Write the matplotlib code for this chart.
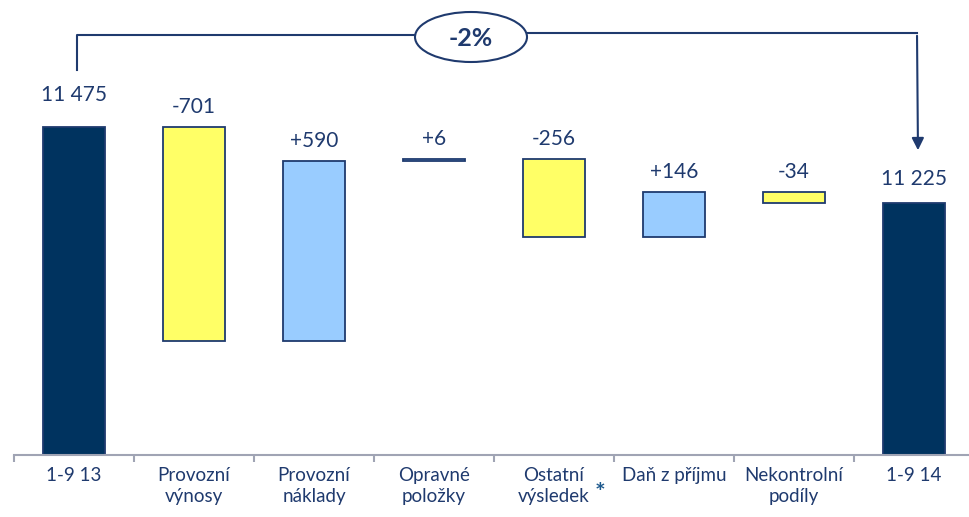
import matplotlib.pyplot as plt
import matplotlib.transforms as mtransforms
from matplotlib.patches import Ellipse

plt.rcParams['font.family'] = ['Lato', 'DejaVu Sans']

categories = ['1-9 13', 'Provozní\nvýnosy', 'Provozní\nnáklady', 'Opravné\npoložky',
              'Ostatní\nvýsledek', 'Daň z příjmu', 'Nekontrolní\npodíly', '1-9 14']
start_value = 11475
deltas = [-701, 590, 6, -256, 146, -34]
end_value = 11225
value_labels = ['11 475', '-701', '+590', '+6', '-256', '+146', '-34', '11 225']
change_label = '-2%'

navy = '#00335f'
text_col = '#1f3a6e'
yellow = '#ffff66'
lightblue = '#99ccff'

fig = plt.figure(figsize=(9.69, 5.17), dpi=100)
ax = fig.add_axes([14 / 969, 62 / 517, 960 / 969, 455 / 517])

y_min, y_max = 10400, 11890

# waterfall bars
bottoms, heights, colors = [y_min], [start_value - y_min], [navy]
level = start_value
for d in deltas:
    new = level + d
    bottoms.append(min(level, new))
    heights.append(abs(d))
    colors.append(yellow if d < 0 else lightblue)
    level = new
bottoms.append(y_min)
heights.append(end_value - y_min)
colors.append(navy)

x = list(range(len(categories)))
ax.bar(x, heights, bottom=bottoms, width=0.52, color=colors,
       edgecolor=text_col, linewidth=1.3, zorder=2)

for i, lab in enumerate(value_labels):
    top = bottoms[i] + heights[i]
    off = 22 if i == 0 else (14 if i == len(x) - 1 else 10)
    ax.annotate(lab, (i, top), xytext=(0, off), textcoords='offset pixels',
                ha='center', va='bottom', fontsize=15, color=text_col)

ax.set_xlim(-0.5, 7.5)
ax.set_ylim(y_min, y_max)
for s in ['top', 'right', 'left']:
    ax.spines[s].set_visible(False)
ax.spines['bottom'].set_color('#a0a4b4')
ax.spines['bottom'].set_linewidth(1.5)
ax.set_yticks([])
ax.set_xticks([i - 0.5 for i in range(len(categories) + 1)])
ax.set_xticklabels([])
ax.tick_params(axis='x', length=5, width=1.5, color='#a0a4b4', direction='out')

label_tr = ax.transData + mtransforms.ScaledTranslation(0, -0.12, fig.dpi_scale_trans)
for i, c in enumerate(categories):
    ax.text(i, y_min, c, transform=label_tr, ha='center', va='top',
            fontsize=13.5, color=text_col, linespacing=1.3)

star_tr = ax.transData + mtransforms.ScaledTranslation(0, -0.27, fig.dpi_scale_trans)
ax.text(4.38, y_min, '*', transform=star_tr, ha='center', va='top',
        fontsize=18, color='#1f5a8e', fontweight='bold')

# bracket with percentage change
over = fig.add_axes([0, 0, 1, 1], facecolor='none')
over.set_xlim(0, 969)
over.set_ylim(517, 0)
over.axis('off')
over.plot([77, 77, 415], [70, 35, 35], color=text_col, lw=1.5)
over.plot([527, 917], [33, 33], color=text_col, lw=1.5)
over.annotate('', xy=(918, 153), xytext=(917, 33),
              arrowprops=dict(arrowstyle='-|>', color=text_col, lw=1.5, mutation_scale=18))
over.add_patch(Ellipse((471, 37), 112, 50, facecolor='white', edgecolor=text_col, lw=1.5))
over.text(471, 38, change_label, ha='center', va='center', fontsize=18,
          fontweight='bold', color=text_col)

fig.savefig('out.png', dpi=100)
